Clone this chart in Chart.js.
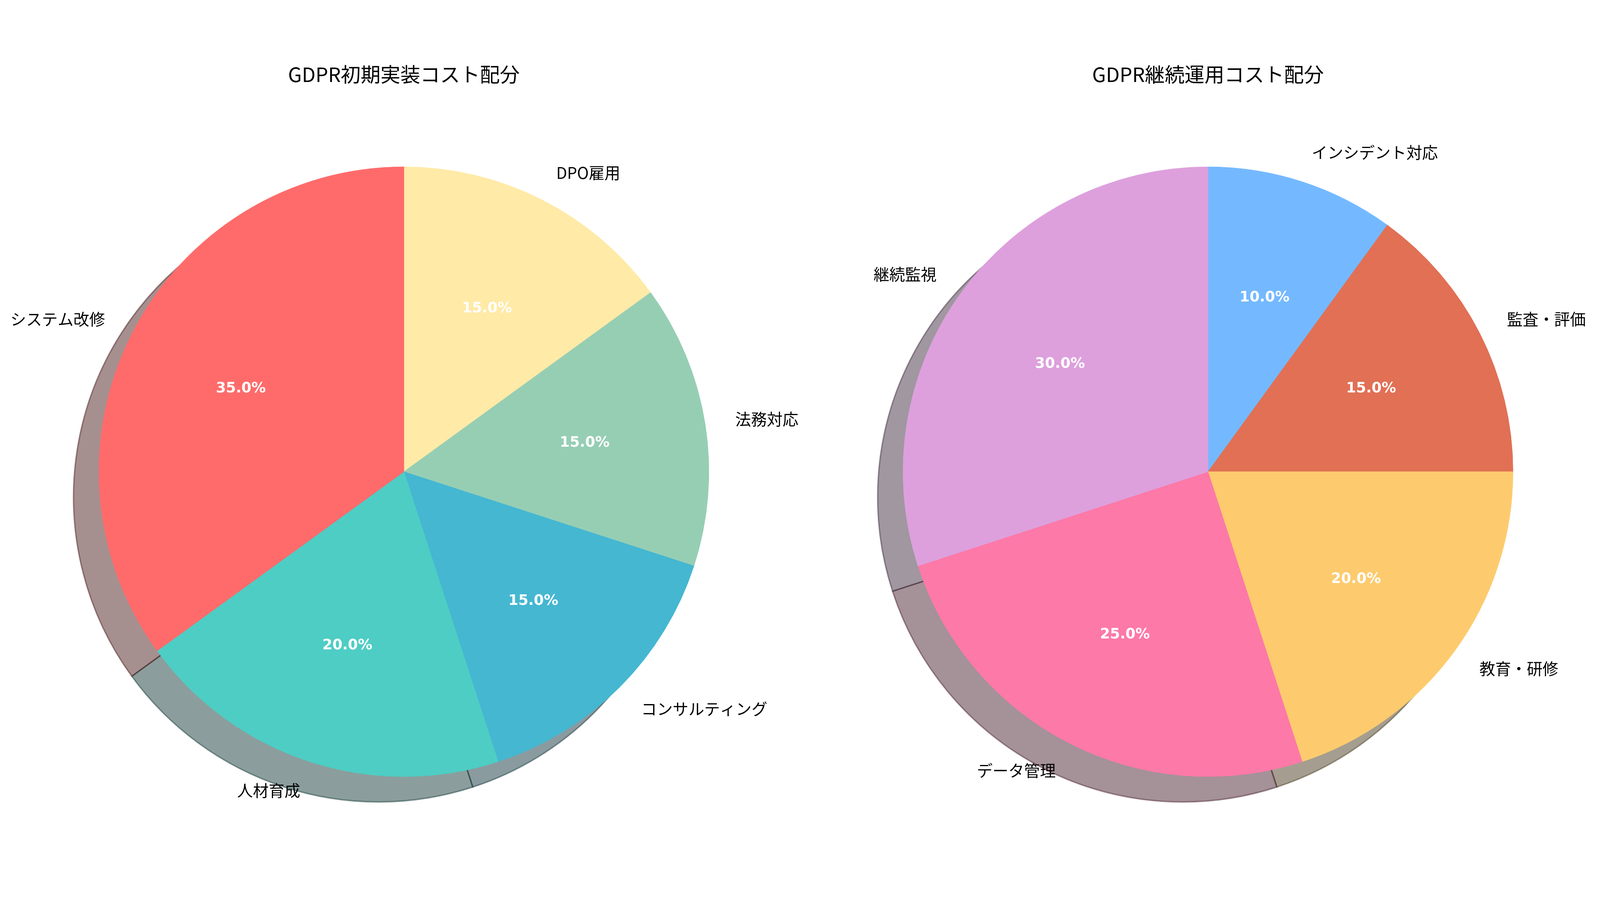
<!DOCTYPE html>
<html>
<head>
  <meta charset="utf-8" />
  <title>GDPR コスト配分</title>
  <script src="https://cdn.jsdelivr.net/npm/chart.js"></script>
  <style>
    html, body { margin: 0; padding: 0; background: #fff; overflow: hidden; }
    .pie { position: absolute; }
  </style>
</head>
<body>
  <canvas id="initialChart" class="pie"></canvas>
  <canvas id="runningChart" class="pie"></canvas>

  <script>
    // data, in the order the slices go counterclockwise from 12 o'clock
    const initialTitle = 'GDPR初期実装コスト配分';
    const initialLabels = ['システム改修', '人材育成', 'コンサルティング', '法務対応', 'DPO雇用'];
    const initialValues = [35, 20, 15, 15, 15];
    const initialColors = ['#FF6B6B', '#4ECDC4', '#45B7D1', '#96CEB4', '#FFEAA7'];

    const runningTitle = 'GDPR継続運用コスト配分';
    const runningLabels = ['継続監視', 'データ管理', '教育・研修', '監査・評価', 'インシデント対応'];
    const runningValues = [30, 25, 20, 15, 10];
    const runningColors = ['#DDA0DD', '#FD79A8', '#FDCB6E', '#E17055', '#74B9FF'];

    // the figure was laid out on a 4666 x 2356 sheet; scale it to the window
    const FIG_W = 4666, FIG_H = 2356;
    const s = Math.min(window.innerWidth / FIG_W, window.innerHeight / FIG_H);
    const offX = (window.innerWidth - FIG_W * s) / 2;
    const offY = (window.innerHeight - FIG_H * s) / 2;

    const PIE_D = 1780;      // pie diameter
    const PIE_TOP = 322;     // top of the pie
    const SHADOW = 74;       // shadow offset, down-left

    function shadowColor(hex) {
      const n = parseInt(hex.slice(1), 16);
      const r = Math.round(((n >> 16) & 255) * 0.3);
      const g = Math.round(((n >> 8) & 255) * 0.3);
      const b = Math.round((n & 255) * 0.3);
      return `rgba(${r},${g},${b},0.5)`;
    }

    // shadow under the pie + outside labels and percentages
    const pieDecor = {
      id: 'pieDecor',
      beforeDatasetsDraw(chart) {
        const ctx = chart.ctx;
        const colors = chart.data.datasets[0].backgroundColor;
        chart.getDatasetMeta(0).data.forEach((arc, i) => {
          const p = arc.getProps(['x', 'y', 'startAngle', 'endAngle', 'outerRadius'], true);
          const sx = p.x - SHADOW * s, sy = p.y + SHADOW * s;
          const c = shadowColor(colors[i]);
          ctx.save();
          ctx.beginPath();
          ctx.moveTo(sx, sy);
          ctx.arc(sx, sy, p.outerRadius, p.startAngle, p.endAngle);
          ctx.closePath();
          ctx.fillStyle = c;
          ctx.fill();
          ctx.lineWidth = 4 * s;
          ctx.lineJoin = 'round';
          ctx.strokeStyle = c;
          ctx.stroke();
          ctx.restore();
        });
      },
      afterDatasetsDraw(chart) {
        const ctx = chart.ctx;
        const ds = chart.data.datasets[0];
        const total = ds.data.reduce((a, b) => a + b, 0);
        chart.getDatasetMeta(0).data.forEach((arc, i) => {
          const p = arc.getProps(['x', 'y', 'startAngle', 'endAngle', 'outerRadius'], true);
          const mid = (p.startAngle + p.endAngle) / 2;
          const cos = Math.cos(mid), sin = Math.sin(mid);
          ctx.save();
          // category label at 1.1 r
          const lx = p.x + cos * p.outerRadius * 1.1;
          const ly = p.y + sin * p.outerRadius * 1.1;
          ctx.font = `${46 * s}px "Noto Sans CJK JP"`;
          ctx.fillStyle = '#000';
          ctx.textBaseline = 'middle';
          ctx.textAlign = lx < p.x ? 'right' : 'left';
          ctx.fillText(chart.data.labels[i], lx, ly);
          // percentage at 0.6 r
          const px = p.x + cos * p.outerRadius * 0.6;
          const py = p.y + sin * p.outerRadius * 0.6;
          ctx.font = `bold ${42 * s}px "DejaVu Sans"`;
          ctx.fillStyle = '#fff';
          ctx.textAlign = 'center';
          ctx.fillText((ds.data[i] / total * 100).toFixed(1) + '%', px, py);
          ctx.restore();
        });
      }
    };

    // figLeft / figWidth: where the canvas sits on the 4666-wide sheet
    function makePie(id, title, labels, values, colors, figLeft, figWidth) {
      const canvas = document.getElementById(id);
      const w = Math.round(figWidth * s);
      const h = Math.round(FIG_H * s);
      canvas.width = w;
      canvas.height = h;
      canvas.style.left = (offX + figLeft * s) + 'px';
      canvas.style.top = offY + 'px';

      const side = (w - PIE_D * s) / 2;
      const titleSize = 58 * s;
      const titleTop = 18 * s;
      const titleBottom = PIE_TOP * s - titleTop - titleSize * 1.2;
      const bottom = h - PIE_TOP * s - PIE_D * s;

      // Chart.js runs clockwise, the reference runs counterclockwise
      const l = labels.slice().reverse();
      const v = values.slice().reverse();
      const c = colors.slice().reverse();
      return new Chart(canvas, {
        type: 'pie',
        data: {
          labels: l,
          datasets: [{
            data: v,
            backgroundColor: c,
            borderColor: c,
            borderWidth: 1,
            hoverOffset: 0,
            offset: 0
          }]
        },
        options: {
          responsive: false,
          devicePixelRatio: 1,
          animation: false,
          events: [],
          layout: { padding: { left: side, right: side, top: 0, bottom: bottom } },
          plugins: {
            legend: { display: false },
            tooltip: { enabled: false },
            title: {
              display: true,
              text: title,
              color: '#000',
              font: { family: '"Noto Sans CJK JP"', size: titleSize, weight: 'normal', lineHeight: 1.2 },
              padding: { top: titleTop, bottom: titleBottom }
            }
          }
        },
        plugins: [pieDecor]
      });
    }

    makePie('initialChart', initialTitle, initialLabels, initialValues, initialColors, 0, 2356);
    makePie('runningChart', runningTitle, runningLabels, runningValues, runningColors, 2380, 2286);
  </script>
</body>
</html>
